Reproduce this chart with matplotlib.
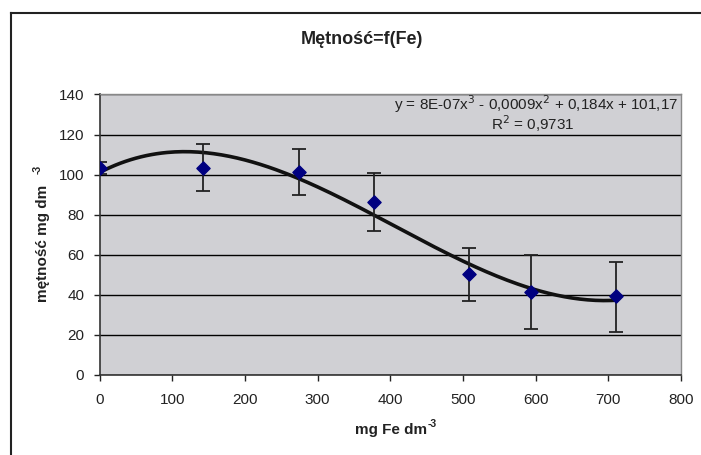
import numpy as np
import matplotlib
matplotlib.use("Agg")
import matplotlib.pyplot as plt
from matplotlib.lines import Line2D

plt.rcParams['font.family'] = ['Liberation Sans', 'DejaVu Sans']

# data
fe = [0, 143, 275, 378, 508, 594, 711]
metnosc = [103.5, 103.5, 101.5, 86.5, 50.3, 41.2, 39.2]
err_up = [3, 12, 11.4, 14.3, 13.3, 18.8, 17.2]
err_down = [3, 11.7, 11.8, 14.5, 13.3, 18.4, 17.8]
y_ticks = [0, 20, 40, 60, 80, 100, 120, 140]
x_ticks = [0, 100, 200, 300, 400, 500, 600, 700, 800]

W, H = 701, 455
fig = plt.figure(figsize=(W / 100, H / 100), dpi=100)
fig.patch.set_facecolor('white')

# outer chart frame: only left and top edges are inside the picture
fx, fy = 10.5 / W, 1 - 13 / H
fig.add_artist(Line2D([fx, fx], [-0.05, fy], transform=fig.transFigure,
                      color='#222222', linewidth=1.5))
fig.add_artist(Line2D([fx, 1.05], [fy, fy], transform=fig.transFigure,
                      color='#222222', linewidth=1.5))

ax = fig.add_axes([99.5 / W, 1 - 375 / H, (681 - 99.5) / W, (375 - 94.5) / H])
ax.set_facecolor('#D0D0D4')
ax.set_xlim(0, 800)
ax.set_ylim(0, 140)
ax.set_xticks(x_ticks)
ax.set_yticks(y_ticks)
ax.tick_params(direction='out', length=4, width=1, labelsize=11, colors='#222222', pad=7)
ax.tick_params(axis='x', pad=9)
for s in ['left', 'bottom']:
    ax.spines[s].set_color('#333333')
    ax.spines[s].set_linewidth(1.2)
for s in ['top', 'right']:
    ax.spines[s].set_color('#888888')
    ax.spines[s].set_linewidth(1)
ax.grid(axis='y', color='black', linewidth=1)
ax.set_axisbelow(True)

# 3rd order polynomial trendline (Excel-style)
coef = np.polyfit(fe, metnosc, 3)
xs = np.linspace(0, max(fe), 200)
ax.plot(xs, np.polyval(coef, xs), color='#111111', linewidth=2.6, zorder=3)

ax.errorbar(fe, metnosc, yerr=[err_down, err_up], fmt='none', ecolor='#222222',
            elinewidth=1.3, capsize=5, capthick=1.3, zorder=4)
ax.scatter(fe, metnosc, marker='D', s=45, color='#000080', zorder=5)

ax.text(0.995, 0.965, 'y = 8E-07x$^3$ - 0,0009x$^2$ + 0,184x + 101,17',
        transform=ax.transAxes, ha='right', va='center', fontsize=11, color='#222222')
ax.text(0.745, 0.895, 'R$^2$ = 0,9731', transform=ax.transAxes, ha='center',
        va='center', fontsize=11, color='#222222')

fig.text(362 / W, 1 - 39 / H, 'Mętność=f(Fe)', ha='center', va='center',
         fontsize=13, fontweight='bold', color='#222222')

# x label with small superscript
fig.text(427 / W, 1 - 430 / H, 'mg Fe dm', ha='right', va='center',
         fontsize=11, fontweight='bold', color='#222222')
fig.text(428 / W, 1 - 424 / H, '-3', ha='left', va='center',
         fontsize=7.5, fontweight='bold', color='#222222')

# y label with small superscript
fig.text(43 / W, 1 - 243 / H, 'mętność mg dm', ha='center', va='center',
         rotation=90, fontsize=11, fontweight='bold', color='#222222')
fig.text(38 / W, 1 - 174 / H, '-3', ha='center', va='bottom',
         rotation=90, fontsize=7.5, fontweight='bold', color='#222222')

fig.savefig('out.png', dpi=100)
